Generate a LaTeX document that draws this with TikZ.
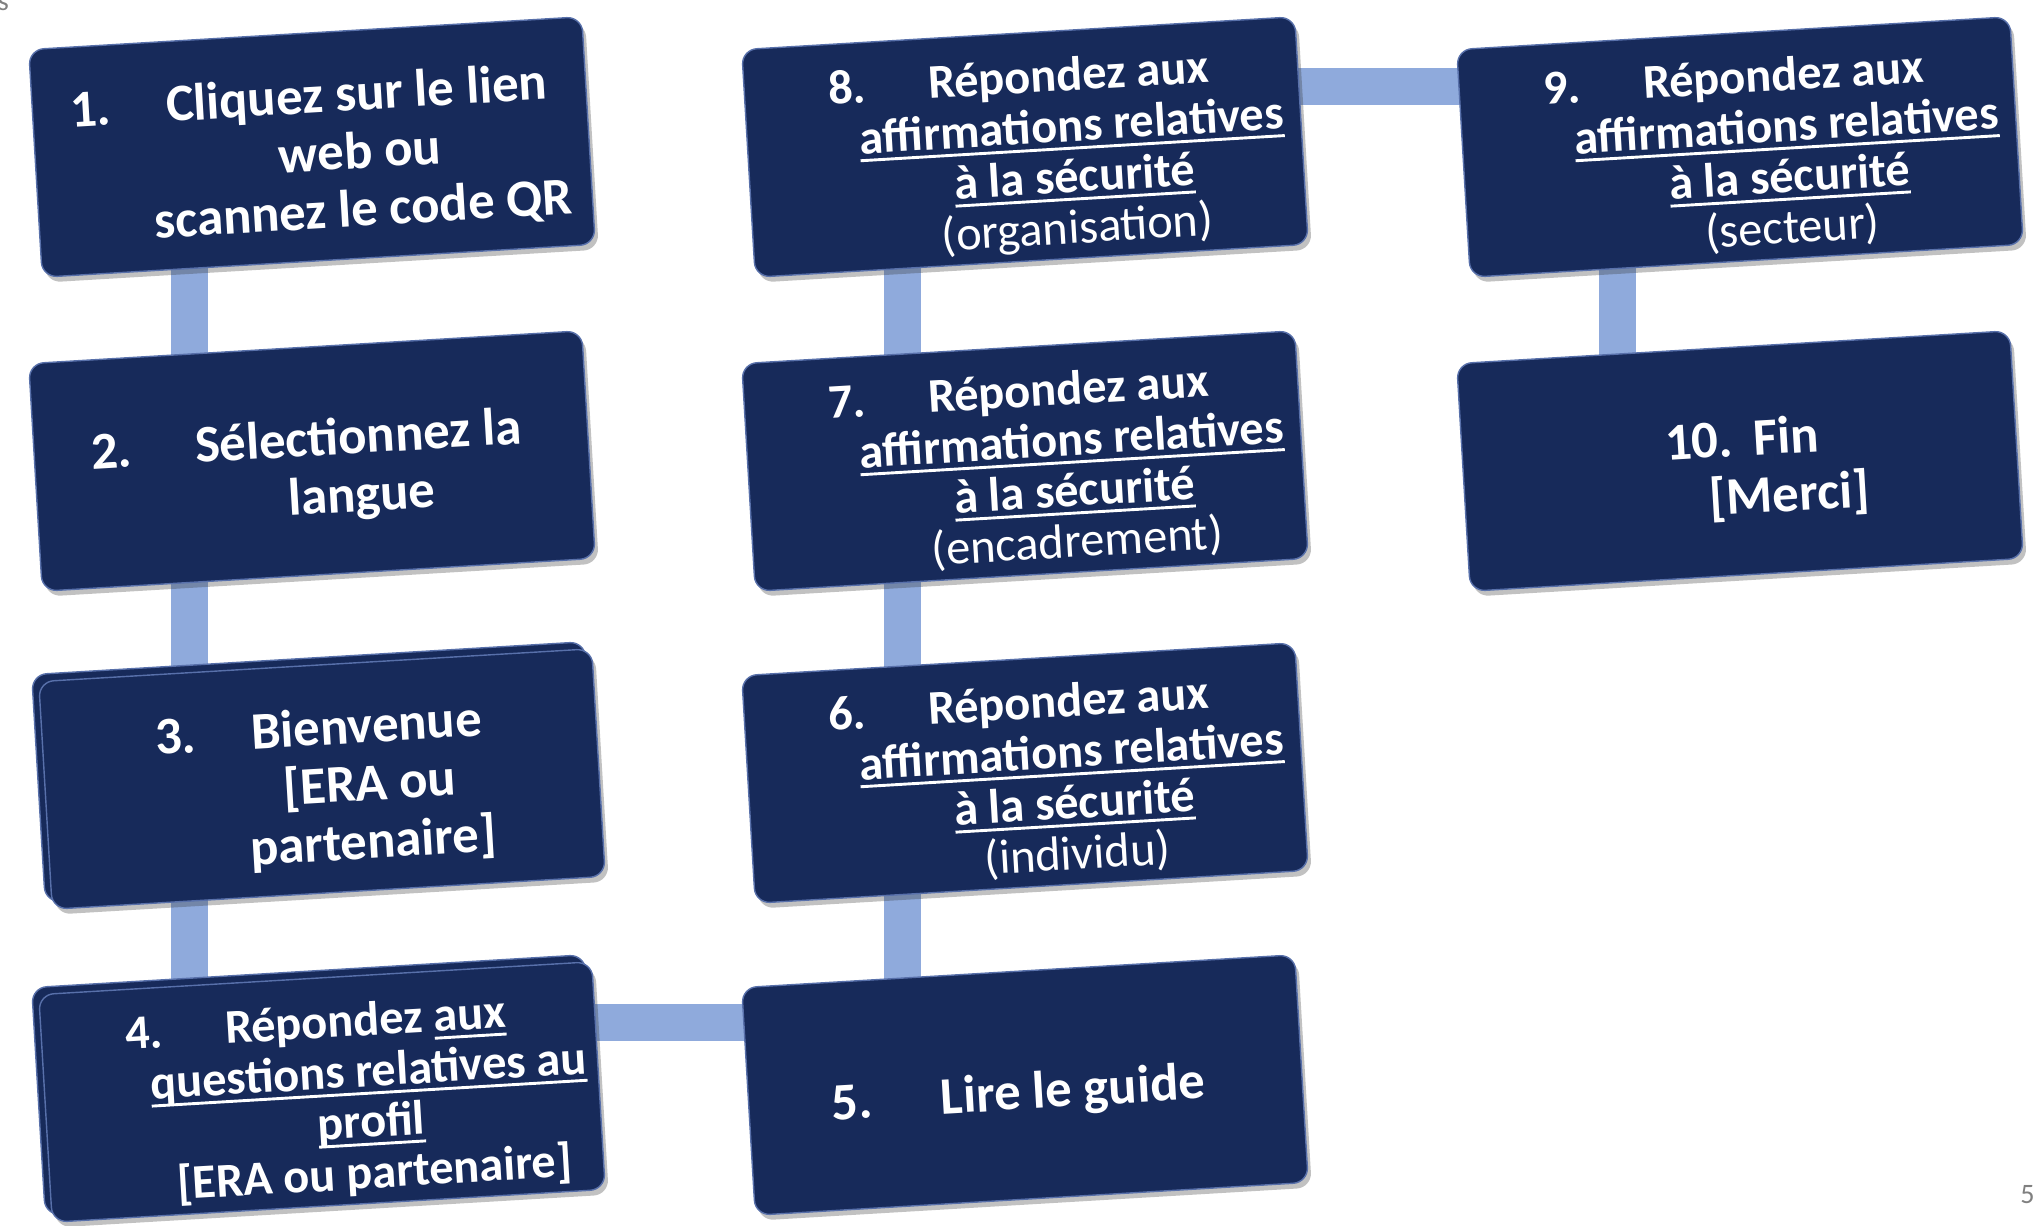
\documentclass[tikz,border=0pt]{standalone}
\usepackage{fontspec}
\setmainfont{Carlito}
\usepackage{tikz}
\usetikzlibrary{positioning,shadows,backgrounds}

\definecolor{boxblue}{RGB}{23,42,90}
\definecolor{boxrim}{RGB}{88,112,170}
\definecolor{linkblue}{RGB}{143,170,220}
\definecolor{pagegray}{RGB}{128,128,128}

\newcommand{\stepno}[2][1.05em]{\llap{#2\hspace{#1}}}
\newcommand{\undl}[1]{\leavevmode\setbox0=\hbox{#1}\rlap{\rule[-0.17em]{\wd0}{0.06em}}\box0}
\newcommand{\steptext}[1]{\hspace*{1.9cm}\raisebox{-0.25cm}[\height][\depth]{\begin{tabular}{@{}c@{}}#1\end{tabular}}}

\begin{document}
\begin{tikzpicture}

\tikzstyle{stepbox}=[
    rectangle,
    rounded corners=0.3cm,
    rotate=3.4,
    minimum width=11.08cm,
    minimum height=4.56cm,
    inner sep=0pt,
    fill=boxblue,
    draw=boxrim,
    line width=0.8pt,
    text=white,
    font=\bfseries\fontsize{30}{33}\selectfont,
    drop shadow={shadow xshift=2pt, shadow yshift=-3pt, opacity=0.3, fill=black!80}
]
\tikzstyle{stacked}=[copy shadow={shadow xshift=-4pt, shadow yshift=4pt, fill=boxblue, draw=boxrim}]
\tikzstyle{longtext}=[font=\bfseries\fontsize{27.5}{29}\selectfont]
\tikzstyle{link}=[draw=linkblue, line width=0.74cm]
\tikzstyle{pagenum}=[text=pagegray, font=\fontsize{16}{18}\selectfont, inner sep=0pt]

\useasboundingbox (0,0) rectangle (40.82,-24.5);

% first column
\node[stepbox] (B1) at (6.24,-2.94) {\steptext{\stepno{1.}Cliquez sur le lien\\ web ou\\ scannez le code QR}};
\node[stepbox] (B2) at (6.24,-9.22) {\steptext{\stepno[1.2em]{2.}Sélectionnez la\\ langue}};
\node[stepbox, stacked] (B3) at (6.44,-15.58) {\steptext{\stepno{3.}Bienvenue\\ {[ERA ou}\\ partenaire]}};
\node[stepbox, stacked, longtext] (B4) at (6.44,-21.84) {\steptext{\stepno[1.3em]{4.}Répondez \undl{aux}\\ \undl{questions relatives au}\\ \undl{profil}\\ {[ERA ou partenaire]}}};

% second column
\node[stepbox] (B5) at (20.50,-21.70) {\steptext{\stepno[1.3em]{5.}Lire le guide}};
\node[stepbox, longtext] (B6) at (20.50,-15.46) {\steptext{\stepno[1.3em]{6.}Répondez aux\\ \undl{affirmations relatives}\\ \undl{à la sécurité}\\ {\mdseries (individu)}}};
\node[stepbox, longtext] (B7) at (20.50,-9.22) {\steptext{\stepno[1.3em]{7.}Répondez aux\\ \undl{affirmations relatives}\\ \undl{à la sécurité}\\ {\mdseries (encadrement)}}};
\node[stepbox, longtext] (B8) at (20.50,-2.94) {\steptext{\stepno[1.3em]{8.}Répondez aux\\ \undl{affirmations relatives}\\ \undl{à la sécurité}\\ {\mdseries (organisation)}}};

% third column
\node[stepbox, longtext] (B9) at (34.80,-2.94) {\steptext{\stepno[1.3em]{9.}Répondez aux\\ \undl{affirmations relatives}\\ \undl{à la sécurité}\\ {\mdseries (secteur)}}};
\node[stepbox] (B10) at (34.80,-9.22) {\steptext{\stepno[0.4em]{10.}Fin\hspace{0.65em}\\ {[Merci]}}};

\node[pagenum, anchor=base west] (Corner) at (-0.05,-0.2) {s};
\node[pagenum] (Page) at (40.55,-23.9) {5};

% connecting bars behind the boxes
\begin{scope}[on background layer]
\coordinate (L1) at ([xshift=-2.45cm]B1.center);
\coordinate (L2) at ([xshift=-2.45cm]B5.center);
\coordinate (L3) at ([xshift=-2.45cm]B9.center);
\coordinate (H1) at ([yshift=1.4cm]B4.center);
\coordinate (H2) at ([yshift=1.22cm]B8.center);
\path[link]
(L1) edge (L1 |- B2.center)
(L1 |- B2.center) edge (L1 |- B3.center)
(L1 |- B3.center) edge (L1 |- B4.center)
(H1) edge (H1 -| B5.center)
(L2) edge (L2 |- B6.center)
(L2 |- B6.center) edge (L2 |- B7.center)
(L2 |- B7.center) edge (L2 |- B8.center)
(H2) edge (H2 -| B9.center)
(L3) edge (L3 |- B10.center);
\end{scope}

\end{tikzpicture}
\end{document}
